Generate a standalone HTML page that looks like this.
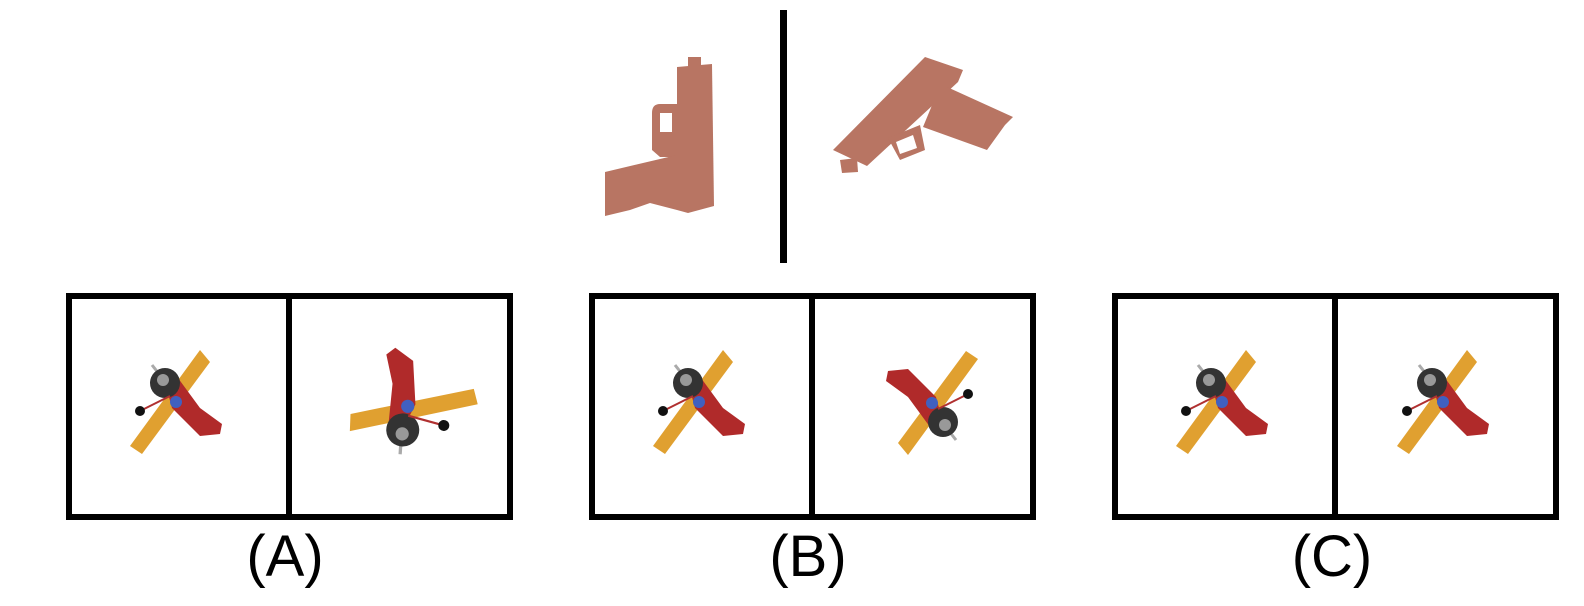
<!DOCTYPE html>
<html><head><meta charset="utf-8"><style>
html,body{margin:0;padding:0;background:#fff;width:1584px;height:606px;overflow:hidden}
.lbl{font-family:"Liberation Sans",sans-serif;font-size:58px;fill:#000}
</style></head><body>
<svg width="1584" height="606" viewBox="0 0 1584 606">
<defs>
<g id="plane">
<line x1="-28" y1="-35" x2="-2" y2="-2" stroke="#aaa" stroke-width="3"/>
<polygon points="-50,46 -38,54 30,-38 20,-50" fill="#e0a030"/>
<polygon points="-14,-14 -2,-22 20,8 42,24 40,34 20,36 -8,8" fill="#b02a2a"/>
<circle cx="-4" cy="2" r="6" fill="#4060c0"/>
<circle cx="-15" cy="-17" r="15" fill="#333"/>
<circle cx="-17" cy="-20" r="6" fill="#999"/>
<line x1="-38" y1="10" x2="-10" y2="-4" stroke="#b03030" stroke-width="2"/>
<circle cx="-40" cy="11" r="5" fill="#111"/>
</g>
</defs>
<rect x="780" y="10" width="7" height="253" fill="#000"/>
<g fill="#b87563">
<rect x="688" y="57" width="13" height="12"/>
<polygon points="677,67 712,64 714,206 688,213 677,210"/>
<path d="M652,113 Q652,104 660,104 L677,104 L677,157 L660,157 L652,150 Z M660,113 L660,132 L672,132 L672,113 Z" fill-rule="evenodd"/>
<polygon points="605,172 677,155 677,210 650,203 630,210 605,216"/>
</g>
<g fill="#b87563">
<polygon points="840,160 857,158 858,172 842,173"/>
<polygon points="925,57 963,70 958,82 867,166 833,150"/>
<polygon points="947,87 1013,117 1005,125 987,150 923,127 935,98"/>
<path d="M888,138 L920,125 L925,150 L900,160 Z M896,142 L900,154 L917,148 L913,135 Z" fill-rule="evenodd"/>
</g>
<g fill="none" stroke="#000" stroke-width="6">
<rect x="69" y="296" width="441" height="221"/>
<line x1="289" y1="296" x2="289" y2="517"/>
<rect x="592" y="296" width="441" height="221"/>
<line x1="812" y1="296" x2="812" y2="517"/>
<rect x="1115" y="296" width="441" height="221"/>
<line x1="1335" y1="296" x2="1335" y2="517"/>
</g>
<use href="#plane" transform="translate(180,400)"/>
<use href="#plane" transform="translate(403,405) rotate(42) scale(-1.1,-1.1)"/>
<use href="#plane" transform="translate(703,400)"/>
<use href="#plane" transform="translate(928,405) scale(-1,-1)"/>
<use href="#plane" transform="translate(1226,400)"/>
<use href="#plane" transform="translate(1447,400)"/>
<text class="lbl" x="285" y="576" text-anchor="middle">(A)</text>
<text class="lbl" x="808" y="576" text-anchor="middle">(B)</text>
<text class="lbl" x="1332" y="576" text-anchor="middle">(C)</text>
</svg>
</body></html>
